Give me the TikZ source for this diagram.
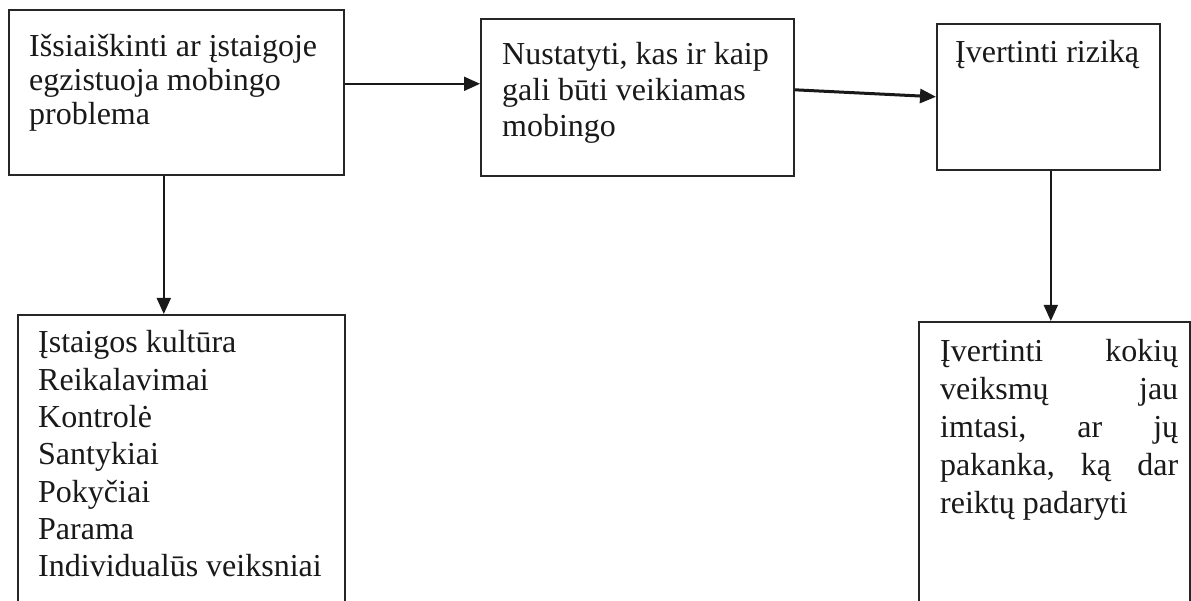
\documentclass[tikz,border=0pt]{standalone}
\usepackage{fontspec}
\setmainfont{Liberation Serif}
\usetikzlibrary{arrows.meta}
\begin{document}
\begin{tikzpicture}[x=1pt,y=-1pt,
  box/.style={draw=black!85, line width=1.6pt, inner sep=0pt, anchor=north west},
  lbl/.style={anchor=base west, inner sep=0pt, text=black!90},
  arr/.style={-{Triangle[length=16pt,width=14pt]}, line width=2pt, draw=black!90}]
\clip (0,0) rectangle (1191,601);
\fill[white] (0,0) rectangle (1191,601);
% boxes
\node[box, minimum width=335pt, minimum height=165pt] (b1) at (8,9) {};
\node[box, minimum width=313pt, minimum height=157pt] (b2) at (480,18) {};
\node[box, minimum width=223pt, minimum height=146pt] (b3) at (936,23) {};
\node[box, minimum width=327pt, minimum height=330pt] (b4) at (17,314) {};
\node[box, minimum width=271pt, minimum height=330pt] (b5) at (918,321) {};
% texts
\node[lbl, font=\fontsize{32}{34}\selectfont] (t1) at (29,57)
  {\begin{tabular}[t]{@{}l@{}}Išsiaiškinti ar įstaigoje\\egzistuoja mobingo\\problema\end{tabular}};
\node[lbl, font=\fontsize{32}{36}\selectfont] (t2) at (502,65)
  {\begin{tabular}[t]{@{}l@{}}Nustatyti, kas ir kaip\\gali būti veikiamas\\mobingo\end{tabular}};
\node[lbl, font=\fontsize{32}{36}\selectfont] (t3) at (955,63) {Įvertinti riziką};
\node[lbl, font=\fontsize{32}{37.3}\selectfont] (t4) at (38,353)
  {\begin{tabular}[t]{@{}l@{}}Įstaigos kultūra\\Reikalavimai\\Kontrolė\\Santykiai\\Pokyčiai\\Parama\\Individualūs veiksniai\end{tabular}};
\node[lbl, font=\fontsize{32}{38}\selectfont] (t5) at (940,362)
  {\begin{tabular}[t]{@{}l@{}}\hbox to 238pt{Įvertinti\hfill kokių}\\
   \hbox to 238pt{veiksmų\hfill jau}\\
   \hbox to 238pt{imtasi,\hfill ar\hfill jų}\\
   \hbox to 238pt{pakanka,\hfill ką\hfill dar}\\
   reiktų padaryti\end{tabular}};
% connectors
\draw[arr] ([yshift=8.5pt]b1.east) -- ([yshift=13.5pt]b2.west);
\draw[arr, line width=3pt] ([yshift=7.5pt]b2.east) -- (b3.west);
\draw[arr, line width=1.8pt] ([xshift=-12.5pt]b1.south) -- ([xshift=-17.5pt]b4.north);
\draw[arr, line width=1.8pt] ([xshift=2.5pt]b3.south) -- ([xshift=-3.5pt]b5.north);
\end{tikzpicture}
\end{document}
